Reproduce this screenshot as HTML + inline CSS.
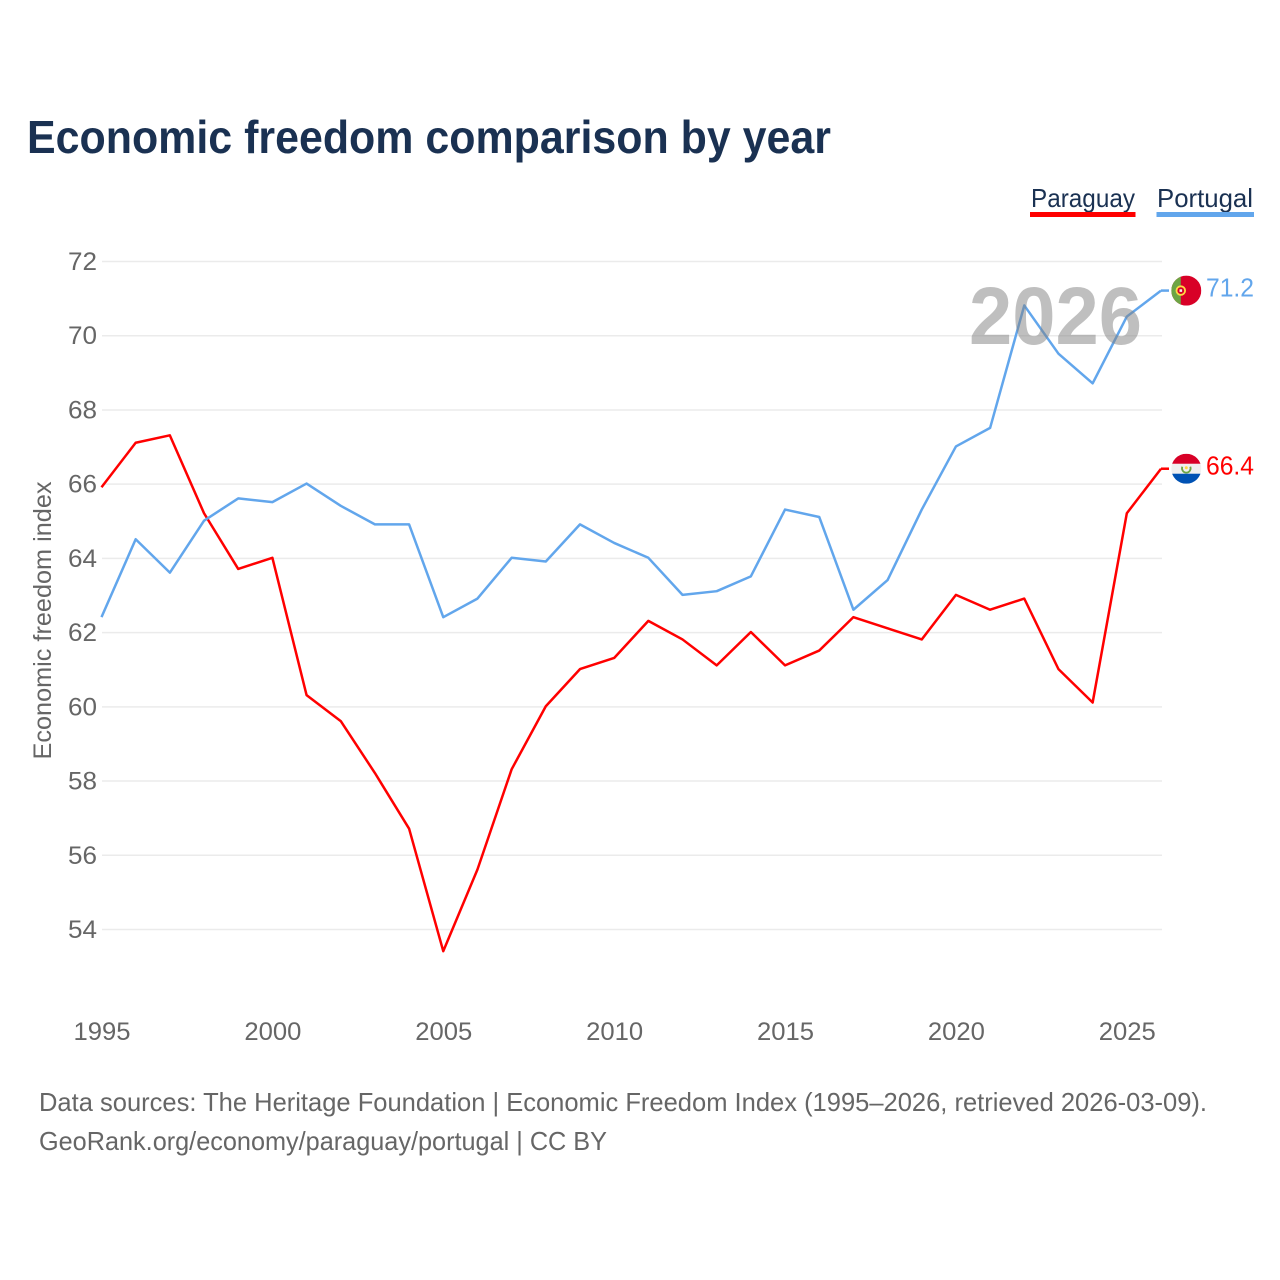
<!DOCTYPE html>
<html lang="en">
<head>
<meta charset="utf-8">
<title>Economic freedom comparison by year</title>
<style>
html,body{margin:0;padding:0;background:#fff;}
svg{display:block;font-family:"Liberation Sans",Arial,sans-serif;}
</style>
</head>
<body>
<svg id="chart" xmlns="http://www.w3.org/2000/svg" width="1280" height="1280" viewBox="0 0 1280 1280">
  <rect width="1280" height="1280" fill="#ffffff"/>
  <text x="27" y="153" font-size="46" font-weight="700" fill="#1a3152" textLength="804" lengthAdjust="spacingAndGlyphs">Economic freedom comparison by year</text>

  <g>
    <text x="1031" y="207" font-size="26" fill="#1a3152" textLength="104" lengthAdjust="spacingAndGlyphs">Paraguay</text>
    <rect x="1030" y="212" width="105.500" height="5" fill="#ff0000"/>
  </g>
  <g>
    <text x="1157" y="207" font-size="26" fill="#1a3152" textLength="96" lengthAdjust="spacingAndGlyphs">Portugal</text>
    <rect x="1156.500" y="212" width="97.500" height="5" fill="#62a6ec"/>
  </g>

  <text transform="translate(51,759.500) rotate(-90)" font-size="25" fill="#666666" textLength="278" lengthAdjust="spacingAndGlyphs">Economic freedom index</text>

  <g id="grid"></g>
  <g id="yticks"></g>
  <g id="xticks"></g>
  <g id="series"></g>

  <text id="year" x="969" y="344" font-size="82" font-weight="700" fill="#808080" fill-opacity="0.5" textLength="173" lengthAdjust="spacingAndGlyphs">2026</text>

  <g id="flag-portugal">
    <defs><clipPath id="clip-pt"><circle cx="0" cy="0" r="15"/></clipPath><clipPath id="clip-py"><circle cx="0" cy="0" r="15"/></clipPath></defs>
    <g clip-path="url(#clip-pt)">
      <rect x="-15" y="-15" width="30" height="30" fill="#d80027"/>
      <rect x="-15" y="-15" width="9.500" height="30" fill="#6da544"/>
    </g>
    <circle cx="-5.500" cy="0" r="4.300" fill="#d80027" stroke="#ffda44" stroke-width="1.800"/>
    <rect x="-6.800" y="-1.300" width="2.600" height="2.600" fill="#f0f0f0"/>
  </g>
  <g id="flag-paraguay">
    <g clip-path="url(#clip-py)">
      <rect x="-15" y="-15" width="30" height="30" fill="#f0f0f0"/>
      <rect x="-15" y="-15" width="30" height="10" fill="#d80027"/>
      <rect x="-15" y="5" width="30" height="10" fill="#0052b4"/>
    </g>
    <path d="M-4 -2 A4.300 4.300 0 1 0 4 -2" fill="none" stroke="#6da544" stroke-width="1.800"/>
    <circle cx="0" cy="-1" r="1.500" fill="#ffda44"/>
  </g>

  <text id="value-portugal" x="1206" y="297" font-size="26" fill="#62a6ec" textLength="48" lengthAdjust="spacingAndGlyphs"></text>
  <text id="value-paraguay" x="1206" y="475" font-size="26" fill="#ff0000" textLength="48" lengthAdjust="spacingAndGlyphs"></text>

  <text x="39" y="1111" font-size="26" fill="#666666" textLength="1168" lengthAdjust="spacingAndGlyphs">Data sources: The Heritage Foundation | Economic Freedom Index (1995–2026, retrieved 2026-03-09).</text>
  <text x="39" y="1150" font-size="26" fill="#666666" textLength="568" lengthAdjust="spacingAndGlyphs">GeoRank.org/economy/paraguay/portugal | CC BY</text>
</svg>
<script>
const years = [1995,1996,1997,1998,1999,2000,2001,2002,2003,2004,2005,2006,2007,2008,2009,2010,2011,2012,2013,2014,2015,2016,2017,2018,2019,2020,2021,2022,2023,2024,2025,2026];
const paraguay = [65.9,67.1,67.3,65.2,63.7,64.0,60.3,59.6,58.2,56.7,53.4,55.6,58.3,60.0,61.0,61.3,62.3,61.8,61.1,62.0,61.1,61.5,62.4,62.1,61.8,63.0,62.6,62.9,61.0,60.1,65.2,66.4];
const portugal = [62.4,64.5,63.6,65.0,65.6,65.5,66.0,65.4,64.9,64.9,62.4,62.9,64.0,63.9,64.9,64.4,64.0,63.0,63.1,63.5,65.3,65.1,62.6,63.4,65.3,67.0,67.5,70.8,69.5,68.7,70.5,71.2];
const yTickLabels = [54,56,58,60,62,64,66,68,70,72];
const xTickLabels = [1995,2000,2005,2010,2015,2020,2025];

const NS = 'http://www.w3.org/2000/svg';
const xScale = function (year) { return 101.5 + (year - 1995) * (1059.5 / 31); };
const yScale = function (value) { return 261.5 + (72 - value) * (668 / 18); };
const lineOffsetY = -0.6;

function make(tag, parent, attrs) {
  const el = document.createElementNS(NS, tag);
  Object.keys(attrs).forEach(function (k) { el.setAttribute(k, attrs[k]); });
  parent.appendChild(el);
  return el;
}

const gridGroup = document.getElementById('grid');
const yTickGroup = document.getElementById('yticks');
yTickLabels.forEach(function (tick) {
  const line = make('line', gridGroup, { x1: 102, x2: 1162, y1: yScale(tick), y2: yScale(tick), stroke: '#ebebeb', 'stroke-width': 1.5 });
  
  
  const label = make('text', yTickGroup, { x: 97, y: yScale(tick) + 8.5, 'text-anchor': 'end', 'font-size': 25, fill: '#666666', textLength: 29, lengthAdjust: 'spacingAndGlyphs' });
  
  
  label.textContent = tick;
});

const xTickGroup = document.getElementById('xticks');
xTickLabels.forEach(function (tick) {
  const label = make('text', xTickGroup, { x: xScale(tick) + 0.5, y: 1040, 'text-anchor': 'middle', 'font-size': 25, fill: '#666666', textLength: 57, lengthAdjust: 'spacingAndGlyphs' });
  
  
  label.textContent = tick;
});

function drawSeries(values, color, key) {
  const group = document.getElementById('series');
  const points = values.map(function (v, i) { return xScale(years[i]) + ',' + (yScale(v) + lineOffsetY); }).join(' ');
  const line = make('polyline', group, { points: points, fill: 'none', stroke: color, 'stroke-width': 2.5, 'stroke-linejoin': 'round' });
  
  
  const lastY = yScale(values[values.length - 1]) + lineOffsetY;
  const lead = make('line', group, { x1: xScale(years[years.length - 1]), x2: 1169, y1: lastY, y2: lastY, stroke: color, 'stroke-width': 2.5 });
  
  
  document.getElementById('flag-' + key).setAttribute('transform', 'translate(1186.3,' + lastY + ')');
  const valueLabel = document.getElementById('value-' + key);
  valueLabel.setAttribute('y', lastY + 6);
  valueLabel.textContent = values[values.length - 1].toFixed(1);
}
drawSeries(paraguay, '#ff0000', 'paraguay');
drawSeries(portugal, '#62a6ec', 'portugal');
document.getElementById('year').textContent = years[years.length - 1];
</script>
</body>
</html>
